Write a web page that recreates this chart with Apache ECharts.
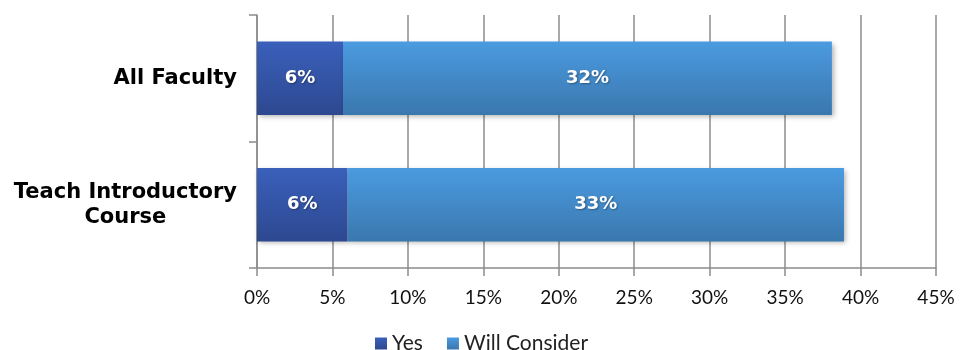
<!DOCTYPE html>
<html>
<head>
<meta charset="utf-8">
<script src="https://cdn.jsdelivr.net/npm/echarts@6/dist/echarts.min.js"></script>
<style>
  html, body { margin: 0; padding: 0; background: #fff; }
  #main { width: 963px; height: 350px; }
</style>
</head>
<body>
<div id="main"></div>
<script>
const categories = ['All Faculty', 'Teach Introductory\nCourse'];
const yesValues = [5.7, 6.0];
const considerValues = [32.4, 32.9];
const xTicks = [0, 5, 10, 15, 20, 25, 30, 35, 40, 45];

const chart = echarts.init(document.getElementById('main'));

const grad = (top, bottom) => new echarts.graphic.LinearGradient(0, 0, 0, 1, [
  { offset: 0, color: top },
  { offset: 1, color: bottom }
]);

const barLabel = {
  show: true,
  position: 'inside',
  color: '#fff',
  fontFamily: 'DejaVu Sans',
  fontWeight: 'bold',
  fontSize: 18,
  textShadowColor: 'rgba(0,0,0,0.35)',
  textShadowBlur: 2,
  textShadowOffsetX: 1,
  textShadowOffsetY: 1,
  formatter: (p) => Math.round(p.value) + '%'
};

const barShadow = {
  shadowColor: 'rgba(0,0,0,0.3)',
  shadowBlur: 5,
  shadowOffsetX: 2,
  shadowOffsetY: 2
};

chart.setOption({
  animation: false,
  grid: { left: 257, right: 27, top: 15, bottom: 82 },
  legend: {
    top: 328,
    left: 'center',
    itemWidth: 12,
    itemHeight: 12,
    itemGap: 24,
    icon: 'rect',
    textStyle: { fontFamily: 'Lato', fontSize: 21, color: '#222' },
    data: ['Yes', 'Will Consider']
  },
  xAxis: {
    type: 'value',
    min: 0,
    max: 45,
    interval: 5,
    axisLine: { show: true, lineStyle: { color: '#8c8c8c', width: 1.5 } },
    axisTick: { show: true, length: 8, lineStyle: { color: '#8c8c8c', width: 1.5 } },
    splitLine: { show: true, lineStyle: { color: '#8c8c8c', width: 1.5 } },
    axisLabel: {
      margin: 20,
      fontFamily: 'Lato',
      fontSize: 19,
      color: '#111',
      formatter: (v) => xTicks.includes(v) ? v + '%' : ''
    }
  },
  yAxis: {
    type: 'category',
    inverse: true,
    data: categories,
    axisLine: { show: true, lineStyle: { color: '#8c8c8c', width: 1.5 } },
    axisTick: { show: true, length: 8, lineStyle: { color: '#8c8c8c', width: 1.5 } },
    axisLabel: {
      margin: 20,
      formatter: (v) => v.split('\n').map((s) => '{a|' + s + '}').join('\n'),
      rich: {
        a: {
          align: 'center',
          fontFamily: 'DejaVu Sans',
          fontWeight: 'bold',
          fontSize: 21,
          color: '#000',
          lineHeight: 25
        }
      }
    }
  },
  series: [
    {
      name: 'Yes',
      type: 'bar',
      stack: 'total',
      barWidth: '58%',
      data: yesValues,
      itemStyle: Object.assign({ color: grad('#3a60bb', '#2d4890') }, barShadow),
      label: barLabel
    },
    {
      name: 'Will Consider',
      type: 'bar',
      stack: 'total',
      barWidth: '58%',
      data: considerValues,
      itemStyle: Object.assign({ color: grad('#4b9be0', '#3a77ae') }, barShadow),
      label: barLabel
    }
  ]
});
</script>
</body>
</html>
